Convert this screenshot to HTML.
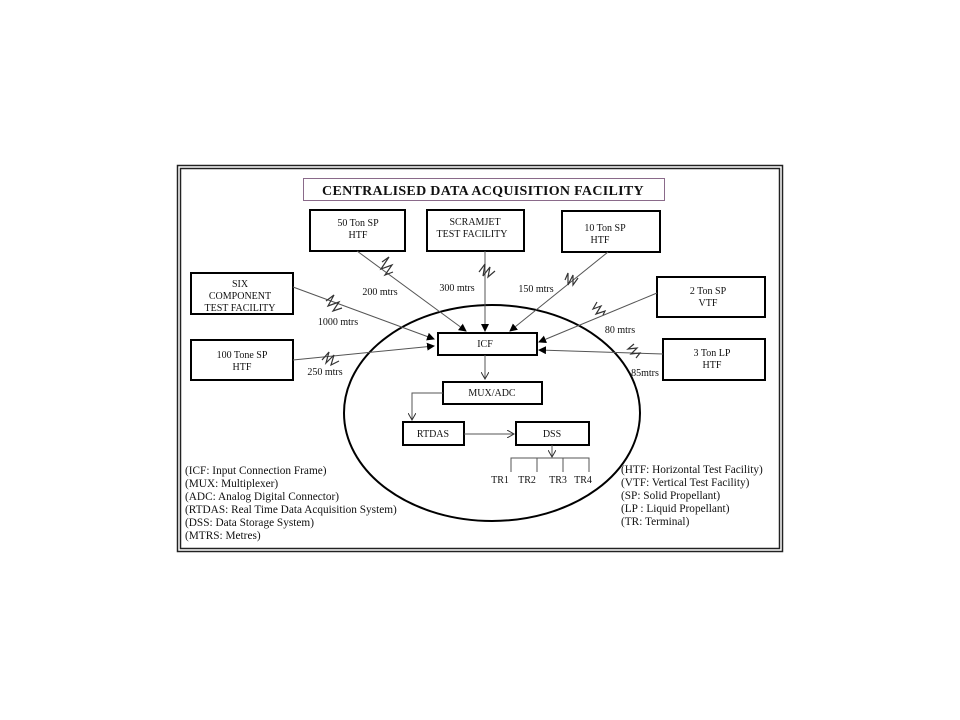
<!DOCTYPE html>
<html><head><meta charset="utf-8"><style>
html,body{margin:0;padding:0;background:#fff;}
svg{display:block;}
text{font-family:"Liberation Serif",serif;fill:#111;}
</style></head><body>
<svg width="960" height="720" viewBox="0 0 960 720" xmlns="http://www.w3.org/2000/svg">
<defs>
<marker id="a" markerWidth="8" markerHeight="8" refX="7" refY="4" orient="auto" markerUnits="userSpaceOnUse"><path d="M0,0 L8,4 L0,8 Z" fill="#000"/></marker>
<marker id="o" markerWidth="8" markerHeight="8" refX="7" refY="4" orient="auto" markerUnits="userSpaceOnUse"><path d="M0,0 L7,4 L0,8" fill="none" stroke="#333" stroke-width="1"/></marker>
</defs>
<rect x="177.5" y="165.5" width="605" height="386" fill="none" stroke="#222" stroke-width="1.5"/>
<rect x="180.5" y="168.5" width="599" height="380" fill="none" stroke="#222" stroke-width="1.5"/>
<rect x="303.5" y="178.5" width="361" height="22" fill="none" stroke="#8a6a8a" stroke-width="1"/>
<text x="483" y="195" font-size="14" font-weight="bold" text-anchor="middle" letter-spacing="0.3">CENTRALISED DATA ACQUISITION FACILITY</text>
<ellipse cx="492" cy="413" rx="148" ry="108" fill="none" stroke="#000" stroke-width="2"/>
<g fill="#fff" stroke="#000" stroke-width="2">
<rect x="310" y="210" width="95" height="41"/>
<rect x="427" y="210" width="97" height="41"/>
<rect x="562" y="211" width="98" height="41"/>
<rect x="191" y="273" width="102" height="41"/>
<rect x="657" y="277" width="108" height="40"/>
<rect x="191" y="340" width="102" height="40"/>
<rect x="663" y="339" width="102" height="41"/>
<rect x="438" y="333" width="99" height="22"/>
<rect x="443" y="382" width="99" height="22"/>
<rect x="403" y="422" width="61" height="23"/>
<rect x="516" y="422" width="73" height="23"/>
</g>
<g font-size="10" text-anchor="middle">
<text x="358" y="226">50  Ton SP</text><text x="358" y="238">HTF</text>
<text x="475" y="225">SCRAMJET</text><text x="472" y="237">TEST FACILITY</text>
<text x="605" y="231">10 Ton SP</text><text x="600" y="243">HTF</text>
<text x="240" y="287">SIX</text><text x="240" y="299">COMPONENT</text><text x="240" y="311">TEST FACILITY</text>
<text x="708" y="294">2 Ton SP</text><text x="708" y="306">VTF</text>
<text x="242" y="358">100 Tone SP</text><text x="242" y="370">HTF</text>
<text x="712" y="356">3 Ton LP</text><text x="712" y="368">HTF</text>
<text x="485" y="347">ICF</text>
<text x="492" y="396">MUX/ADC</text>
<text x="433" y="437">RTDAS</text>
<text x="552" y="437">DSS</text>
<text x="380" y="295">200 mtrs</text>
<text x="457" y="291">300 mtrs</text>
<text x="536" y="292">150 mtrs</text>
<text x="338" y="325">1000 mtrs</text>
<text x="620" y="333">80 mtrs</text>
<text x="325" y="375">250 mtrs</text>
<text x="645" y="376">85mtrs</text>
<text x="500" y="483">TR1</text><text x="527" y="483">TR2</text><text x="558" y="483">TR3</text><text x="583" y="483">TR4</text>
</g>
<g stroke="#555" stroke-width="1" fill="none">
<line x1="357" y1="251" x2="466" y2="331" marker-end="url(#a)"/>
<line x1="485" y1="251" x2="485" y2="331" marker-end="url(#a)"/>
<line x1="608" y1="252" x2="510" y2="331" marker-end="url(#a)"/>
<line x1="293" y1="287" x2="434" y2="339" marker-end="url(#a)"/>
<line x1="657" y1="293" x2="539" y2="342" marker-end="url(#a)"/>
<line x1="293" y1="360" x2="434" y2="346" marker-end="url(#a)"/>
<line x1="663" y1="354" x2="539" y2="350" marker-end="url(#a)"/>
<line x1="485" y1="355" x2="485" y2="379" marker-end="url(#o)"/>
<polyline points="443,393 412,393 412,420" marker-end="url(#o)"/>
<line x1="464" y1="434" x2="514" y2="434" marker-end="url(#o)"/>
<line x1="552" y1="445" x2="552" y2="457" marker-end="url(#o)"/>
<polyline points="511,472 511,458 589,458 589,472"/>
<line x1="537" y1="458" x2="537" y2="472"/><line x1="563" y1="458" x2="563" y2="472"/>
</g>
<g stroke="#333" stroke-width="1.2" fill="none">
<path d="M382,262 l7,-5 l-8,12 l11,-4 l-7,10 l8,-3"/>
<path d="M479,272 l6,-8 l-2,12 l7,-9 l-2,10 l7,-6"/>
<path d="M565,280 l3,-7 l0,12 l5,-10 l0,10 l5,-7"/>
<path d="M326,301 l8,-6 l-6,11 l11,-4 l-6,9 l9,-3"/>
<path d="M597,302 l-4,7 l8,-3 l-5,8 l9,-3 l-2,4"/>
<path d="M322,360 l7,-8 l-3,11 l8,-8 l-3,10 l8,-4"/>
<path d="M634,344 l-6,5 l9,-1 l-6,6 l9,-1 l-4,5"/>
</g>
<g font-size="11.3">
<text x="185" y="474">(ICF: Input Connection Frame)</text>
<text x="185" y="487">(MUX: Multiplexer)</text>
<text x="185" y="500">(ADC: Analog Digital Connector)</text>
<text x="185" y="513">(RTDAS: Real Time Data Acquisition System)</text>
<text x="185" y="526">(DSS: Data Storage System)</text>
<text x="185" y="539">(MTRS: Metres)</text>
<text x="621" y="473">(HTF: Horizontal Test Facility)</text>
<text x="621" y="486">(VTF: Vertical Test Facility)</text>
<text x="621" y="499">(SP: Solid Propellant)</text>
<text x="621" y="512">(LP :  Liquid Propellant)</text>
<text x="621" y="525">(TR: Terminal)</text>
</g>
</svg>
</body></html>
